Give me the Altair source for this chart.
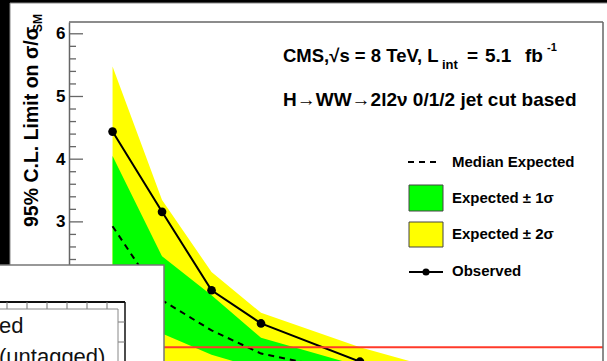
import altair as alt
import pandas as pd

# Higgs mass points (GeV) and 95% CL limits on sigma/sigma_SM
mass = [110, 115, 120, 125, 135, 140, 150, 160]
observed = [4.44, 3.16, 1.91, 1.38, 0.77, 0.68, 0.56, 0.50]
median = [2.93, 1.75, 1.27, 0.90, 0.57, 0.52, 0.45, 0.40]
plus1 = [4.05, 2.45, 1.83, 1.15, 0.70, 0.64, 0.56, 0.50]
minus1 = [2.10, 1.22, 0.88, 0.65, 0.41, 0.37, 0.32, 0.29]
plus2 = [5.48, 3.35, 2.20, 1.55, 1.00, 0.78, 0.66, 0.58]
minus2 = [1.55, 0.78, 0.62, 0.47, 0.30, 0.27, 0.24, 0.21]

sm_level = [1.0]
major_ticks = [1, 2, 3, 4, 5, 6]
labelled_ticks = [3, 4, 5, 6]
minor_ticks = [i + f for i in range(0, 7) for f in (0.2, 0.4, 0.6, 0.8) if 0.8 <= i + f <= 6.1]

FONT = "Liberation Sans"
LEFT, TOP = 69, 22          # canvas offset of the plot frame
W, H = 534, 339             # plot frame size


def cx(v):
    return v - LEFT


def cy(v):
    return v - TOP


df = pd.DataFrame({
    "mass": mass, "observed": observed, "median": median,
    "plus1": plus1, "minus1": minus1, "plus2": plus2, "minus2": minus2,
})
one = pd.DataFrame({"k": [0]})

xs = alt.Scale(domain=[105.6, 159.55], nice=False, zero=False)
ys = alt.Scale(domain=[0.781, 6.188], nice=False, zero=False)
yaxis = alt.Axis(values=labelled_ticks, ticks=False, grid=False, domainColor="#666666",
                 domainWidth=1.5, labelFont=FONT, labelFontSize=17, labelFontWeight="bold",
                 labelColor="black", labelPadding=4, format="d", title=None)

X = alt.X("mass:Q", scale=xs, axis=None)

band2 = alt.Chart(df).mark_area(color="#ffff00", clip=True).encode(
    x=X, y=alt.Y("minus2:Q", scale=ys, axis=yaxis), y2="plus2:Q")
band1 = alt.Chart(df).mark_area(color="#00ff00", clip=True).encode(
    x=X, y=alt.Y("minus1:Q", scale=ys, axis=yaxis), y2="plus1:Q")
med = alt.Chart(df).mark_line(color="black", strokeWidth=2, strokeDash=[6, 5], clip=True).encode(
    x=X, y=alt.Y("median:Q", scale=ys, axis=yaxis))
obs_line = alt.Chart(df).mark_line(color="black", strokeWidth=2, clip=True).encode(
    x=X, y=alt.Y("observed:Q", scale=ys, axis=yaxis))
obs_pts = alt.Chart(df).mark_point(filled=True, color="black", size=75, opacity=1, clip=True).encode(
    x=X, y=alt.Y("observed:Q", scale=ys, axis=yaxis))

sm = alt.Chart(pd.DataFrame({"v": sm_level})).mark_rule(color="#ff3a2a", strokeWidth=2).encode(
    y=alt.Y("v:Q", scale=ys, axis=yaxis), x=alt.value(0), x2=alt.value(W))

maj = alt.Chart(pd.DataFrame({"v": major_ticks})).mark_rule(color="#666666", strokeWidth=1.3).encode(
    y=alt.Y("v:Q", scale=ys, axis=yaxis), x=alt.value(0), x2=alt.value(14))
mnr = alt.Chart(pd.DataFrame({"v": minor_ticks})).mark_rule(color="#666666", strokeWidth=1.3).encode(
    y=alt.Y("v:Q", scale=ys, axis=yaxis), x=alt.value(0), x2=alt.value(7))


def rule(x1, y1, x2, y2, color="#666666", width=1.5, dash=None):
    kw = dict(color=color, strokeWidth=width)
    if dash:
        kw["strokeDash"] = dash
    return alt.Chart(one).mark_rule(**kw).encode(
        x=alt.value(x1), y=alt.value(y1), x2=alt.value(x2), y2=alt.value(y2))


def box(x1, y1, x2, y2, fill, stroke=None, width=1.0):
    kw = dict(color=fill)
    if stroke:
        kw.update(stroke=stroke, strokeWidth=width)
    return alt.Chart(one).mark_rect(**kw).encode(
        x=alt.value(x1), y=alt.value(y1), x2=alt.value(x2), y2=alt.value(y2))


def txt(s, x, y, size, weight="bold", align="left", baseline="alphabetic", angle=0, color="black"):
    return alt.Chart(one).mark_text(text=s, align=align, baseline=baseline, fontSize=size,
                                    fontWeight=weight, font=FONT, angle=angle, color=color).encode(
        x=alt.value(x), y=alt.value(y))


# frame: top and right edges
frame = [
    rule(0, 0, W, 0),
    rule(W, 0, W, H + 5),
]

# dark surround of the panel
surround = [
    box(cx(-2), cy(-2), cx(609), cy(3), "black"),
    box(cx(-2), cy(-2), cx(10), cy(266), "black"),
    rule(cx(10), cy(3), cx(10), cy(266), color="#888888", width=1),
    rule(cx(10), cy(3), cx(609), cy(3), color="#888888", width=1),
]

# header texts
header = [
    txt("CMS,\u221as = 8 TeV, L", cx(283), cy(62), 18.5),
    txt("int", cx(442), cy(69), 13),
    txt("=", cx(467), cy(62), 19),
    txt("5.1", cx(485), cy(62), 19),
    txt("fb", cx(525), cy(62), 19),
    txt("-1", cx(547), cy(51), 11),
    txt("H\u2192WW\u21922l2\u03bd 0/1/2 jet cut based", cx(283), cy(106), 19),
]

# legend
legend = [
    rule(cx(408), cy(162), cx(441), cy(162), color="black", width=2, dash=[6, 5]),
    txt("Median Expected", cx(452), cy(162), 15, baseline="middle"),
    box(cx(409), cy(185), cx(443), cy(211), "#00ff00", stroke="#444444", width=1),
    txt("Expected \u00b1 1\u03c3", cx(452), cy(198), 15, baseline="middle"),
    box(cx(409), cy(222), cx(443), cy(247), "#ffff00", stroke="#444444", width=1),
    txt("Expected \u00b1 2\u03c3", cx(452), cy(234), 15, baseline="middle"),
    rule(cx(409), cy(272), cx(443), cy(272), color="black", width=2),
    alt.Chart(one).mark_point(filled=True, color="black", size=50, opacity=1).encode(
        x=alt.value(cx(426)), y=alt.value(cy(272))),
    txt("Observed", cx(452), cy(271), 15, baseline="middle"),
]

# vertical axis title with subscript
ytitle = [
    txt("95% C.L. Limit on \u03c3/\u03c3", cx(38), cy(227), 19.5, angle=270),
    txt("SM", cx(42), cy(32), 12, angle=270),
]

# panel overlapping the lower-left corner
overlay = [
    box(cx(-3), cy(265), cx(164), cy(364), "white", stroke="#777777", width=1.5),
    rule(cx(-3), cy(302), cx(125), cy(302), color="#111111", width=2),
    rule(cx(125), cy(302), cx(125), cy(364), color="#111111", width=1.5),
]
for tx in range(7, 125, 20):
    overlay.append(rule(cx(tx), cy(302), cx(tx), cy(309), color="#777777", width=1))
for ty in (322, 342):
    overlay.append(rule(cx(118), cy(ty), cx(125), cy(ty), color="#777777", width=1))
overlay += [
    box(cx(-3), cy(309), cx(118), cy(364), "white", stroke="#888888", width=1),
    txt("ed", cx(-1), cy(333), 22, weight="normal", color="#111111"),
    txt("(untagged)", cx(-1), cy(364), 22, weight="normal", color="#111111"),
]

chart = alt.layer(
    band2, band1, med, maj, mnr, obs_line, obs_pts, sm,
    *frame, *surround, *header, *legend, *ytitle, *overlay,
).properties(
    width=W, height=H,
    autosize=alt.AutoSizeParams(type="none"),
    padding={"left": LEFT, "top": TOP, "right": 607 - LEFT - W, "bottom": 0},
    background="white",
).configure_view(stroke=None)

chart.save("out.html", embed_options={"renderer": "svg", "actions": False})
